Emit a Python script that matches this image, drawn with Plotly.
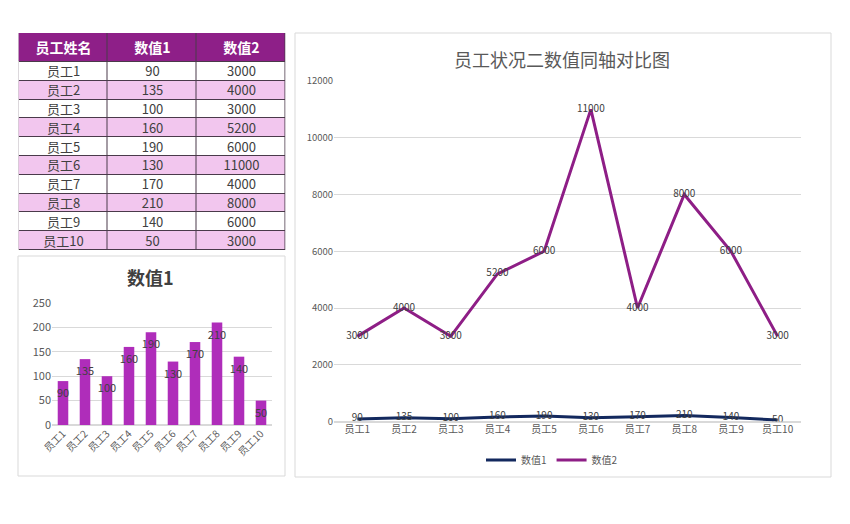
import plotly.graph_objects as go

# ---- data ----
names = ["员工1", "员工2", "员工3", "员工4", "员工5", "员工6", "员工7", "员工8", "员工9", "员工10"]
values1 = [90, 135, 100, 160, 190, 130, 170, 210, 140, 50]
values2 = [3000, 4000, 3000, 5200, 6000, 11000, 4000, 8000, 6000, 3000]
header_labels = ["员工姓名", "数值1", "数值2"]
series_names = ["数值1", "数值2"]
main_title = "员工状况二数值同轴对比图"
bar_title = "数值1"

W, H = 850, 524
OFF = 8  # page body margin of the rendered page
FONT = "Noto Sans CJK SC, Noto Sans, sans-serif"
GRID = "#D9D9D9"
TXT = "#595959"
HEADER = "#8E1F88"
PURPLE = "#8E1E86"
NAVY = "#13295E"
PINK = "#F2C6EE"
BAR = "#AF2DBA"
TABLE_LINE = "#4a3a4a"


def px(x):
    return (x - OFF) / W


def py(y):
    return 1 - (y - OFF) / H


fig = go.Figure()

# ---- table (heatmap based so text is vertically centred) ----
col_w = [89, 89, 89]
header_h = 29
row_h = 18.8
x_edges = [0]
for w in col_w:
    x_edges.append(x_edges[-1] + w)
y_edges = [0, header_h]
for _ in names:
    y_edges.append(y_edges[-1] + row_h)

columns = [names, values1, values2]
z_cells = [[2, 2, 2]] + [[i % 2] * 3 for i in range(len(names))]
text_cells = [[f"<b><span style='color:white;font-size:14px'>{h}</span></b>" for h in header_labels]]
for r in range(len(names)):
    text_cells.append([str(col[r]) for col in columns])

tab_top, tab_left = 33, 18.5
tab_bottom = tab_top + y_edges[-1]
tab_right = tab_left + x_edges[-1]

fig.add_trace(go.Heatmap(
    x=x_edges, y=y_edges, z=[[0] * 3 for _ in z_cells],
    colorscale=[[0, TABLE_LINE], [1, TABLE_LINE]], showscale=False,
    xaxis="x3", yaxis="y3", hoverinfo="skip",
))
fig.add_trace(go.Heatmap(
    x=x_edges, y=y_edges, z=z_cells, zmin=0, zmax=2,
    colorscale=[[0, "white"], [0.5, PINK], [1, HEADER]], showscale=False,
    xgap=1, ygap=1,
    text=text_cells, texttemplate="%{text}",
    textfont=dict(family=FONT, size=13, color="#404040"),
    xaxis="x3", yaxis="y3", hoverinfo="skip",
))

# ---- bar chart ----
fig.add_trace(go.Bar(
    x=names, y=values1, xaxis="x", yaxis="y",
    marker=dict(color=BAR, line=dict(width=0)),
    text=[str(v) for v in values1],
    textposition="inside", insidetextanchor="end",
    textangle=0, constraintext="none",
    insidetextfont=dict(family=FONT, size=11, color="#404040"),
    showlegend=False, cliponaxis=False,
))

# ---- line chart ----
fig.add_trace(go.Scatter(
    x=names, y=values1, xaxis="x2", yaxis="y2", name=series_names[0],
    mode="lines+text", line=dict(color=NAVY, width=3),
    text=[str(v) for v in values1], textposition="middle center",
    textfont=dict(family=FONT, size=10, color="#404040"),
))
fig.add_trace(go.Scatter(
    x=names, y=values2, xaxis="x2", yaxis="y2", name=series_names[1],
    mode="lines+text", line=dict(color=PURPLE, width=3),
    text=[str(v) for v in values2], textposition="middle center",
    textfont=dict(family=FONT, size=10, color="#404040"),
))

fig.update_layout(
    width=W, height=H,
    margin=dict(l=0, r=0, t=0, b=0, autoexpand=False),
    paper_bgcolor="white", plot_bgcolor="white",
    font=dict(family=FONT, color=TXT),
    bargap=0.52,
    xaxis3=dict(domain=[px(tab_left), px(tab_right)], anchor="y3",
                range=[x_edges[0], x_edges[-1]], visible=False, fixedrange=True),
    yaxis3=dict(domain=[py(tab_bottom), py(tab_top)], anchor="x3",
                range=[y_edges[-1], y_edges[0]], visible=False, fixedrange=True),
    xaxis=dict(
        domain=[px(52), px(272)], anchor="y",
        tickangle=-45, tickfont=dict(size=10, color=TXT),
        showgrid=False, showline=False, ticks="",
    ),
    yaxis=dict(
        domain=[py(425), py(303)], anchor="x",
        range=[0, 250], dtick=50,
        gridcolor=GRID, zeroline=True, zerolinecolor=GRID,
        tickfont=dict(size=11, color=TXT), ticks="",
    ),
    xaxis2=dict(
        domain=[px(334), px(801)], anchor="y2",
        tickfont=dict(size=10, color=TXT),
        showgrid=False, showline=False, ticks="",
    ),
    yaxis2=dict(
        domain=[py(421.5), py(81)], anchor="x2",
        range=[0, 12000], dtick=2000, tickformat="d",
        gridcolor=GRID, zeroline=True, zerolinecolor=GRID,
        tickfont=dict(size=9.5, color=TXT), ticks="",
    ),
    legend=dict(
        orientation="h", x=px(552), y=py(460),
        xanchor="center", yanchor="middle",
        font=dict(size=10, color=TXT),
    ),
    shapes=[
        dict(type="rect", xref="paper", yref="paper",
             x0=px(18), x1=px(285), y0=py(476), y1=py(256),
             line=dict(color=GRID, width=1)),
        dict(type="rect", xref="paper", yref="paper",
             x0=px(295), x1=px(831), y0=py(477), y1=py(33),
             line=dict(color=GRID, width=1)),
    ],
    annotations=[
        dict(text=main_title, xref="paper", yref="paper",
             x=px(562), y=py(59), xanchor="center", yanchor="middle",
             showarrow=False, font=dict(size=18, color=TXT)),
        dict(text=f"<b>{bar_title}</b>", xref="paper", yref="paper",
             x=px(150), y=py(277), xanchor="center", yanchor="middle",
             showarrow=False, font=dict(size=18, color="#404040")),
    ],
)

fig.write_html("out.html")
